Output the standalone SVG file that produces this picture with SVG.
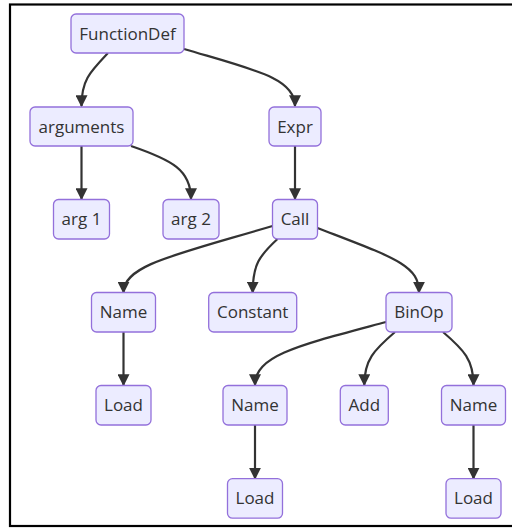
<svg xmlns="http://www.w3.org/2000/svg" width="512" height="528" viewBox="0 0 512 528">
<style>
.node rect{fill:#ECECFF;stroke:#9370DB;stroke-width:1.3}
.node text{font-family:"Open Sans","Noto Sans",sans-serif;font-size:17px;fill:#333;text-anchor:middle}
.edge{fill:none;stroke:#333;stroke-width:2.2;marker-end:url(#arrow)}
</style>
<defs>
<marker id="arrow" viewBox="0 0 10 10" refX="9" refY="5" markerWidth="12" markerHeight="12" markerUnits="userSpaceOnUse" orient="auto">
<path d="M0,0 L10,5 L0,10 z" fill="#333"/>
</marker>
</defs>
<rect x="10" y="4.5" width="510" height="521.5" fill="#fff" stroke="#000" stroke-width="2.2"/>
<g id="connectors">
<path class="edge" d="M108,53 C90,72 81.5,80 81.5,106"/>
<path class="edge" d="M184,49 C255,70 295,78 295,106"/>
<path class="edge" d="M81.5,146 L81.5,199"/>
<path class="edge" d="M131,146 C172,160 191,170 191,199"/>
<path class="edge" d="M295,146 L295,199"/>
<path class="edge" d="M272.5,226 C175,255 123.5,265 123.5,292.5"/>
<path class="edge" d="M277.5,239 C259,256 252.7,265 252.7,292.5"/>
<path class="edge" d="M317.5,228 C395,258 419,265 419,292.5"/>
<path class="edge" d="M123.5,332 L123.5,385"/>
<path class="edge" d="M386,322 C300,345 255,355 255,385"/>
<path class="edge" d="M395,332 C374,350 364.3,360 364.3,385"/>
<path class="edge" d="M443,332 C464,350 473.5,360 473.5,385"/>
<path class="edge" d="M255,425 L255,478.5"/>
<path class="edge" d="M473.5,425 L473.5,478.5"/>
</g>
<g id="n-functiondef" class="node"><rect x="71" y="14" width="113" height="39" rx="5"/><text x="127.5" y="39.5">FunctionDef</text></g>
<g id="n-arguments" class="node"><rect x="30" y="107" width="103" height="39" rx="5"/><text x="81.5" y="132.5">arguments</text></g>
<g id="n-expr" class="node"><rect x="269" y="107" width="52" height="39" rx="5"/><text x="295" y="132.5">Expr</text></g>
<g id="n-arg1" class="node"><rect x="53.5" y="199.5" width="56" height="39.5" rx="5"/><text x="81.5" y="225">arg 1</text></g>
<g id="n-arg2" class="node"><rect x="163" y="199.5" width="56" height="39.5" rx="5"/><text x="191" y="225">arg 2</text></g>
<g id="n-call" class="node"><rect x="272.5" y="199.5" width="45" height="39.5" rx="5"/><text x="295" y="225">Call</text></g>
<g id="n-name1" class="node"><rect x="91.5" y="292.5" width="64" height="39.5" rx="5"/><text x="123.5" y="318">Name</text></g>
<g id="n-constant" class="node"><rect x="208.7" y="292.5" width="88" height="39.5" rx="5"/><text x="252.7" y="318">Constant</text></g>
<g id="n-binop" class="node"><rect x="386" y="292.5" width="66" height="39.5" rx="5"/><text x="419" y="318">BinOp</text></g>
<g id="n-load1" class="node"><rect x="96" y="385.5" width="55" height="39.5" rx="5"/><text x="123.5" y="411">Load</text></g>
<g id="n-name2" class="node"><rect x="223" y="385.5" width="64" height="39.5" rx="5"/><text x="255" y="411">Name</text></g>
<g id="n-add" class="node"><rect x="340.3" y="385.5" width="48" height="39.5" rx="5"/><text x="364.3" y="411">Add</text></g>
<g id="n-name3" class="node"><rect x="441.5" y="385.5" width="64" height="39.5" rx="5"/><text x="473.5" y="411">Name</text></g>
<g id="n-load2" class="node"><rect x="227.5" y="478.7" width="55" height="39.5" rx="5"/><text x="255" y="504.2">Load</text></g>
<g id="n-load3" class="node"><rect x="446" y="478.7" width="55" height="39.5" rx="5"/><text x="473.5" y="504.2">Load</text></g>
</svg>
